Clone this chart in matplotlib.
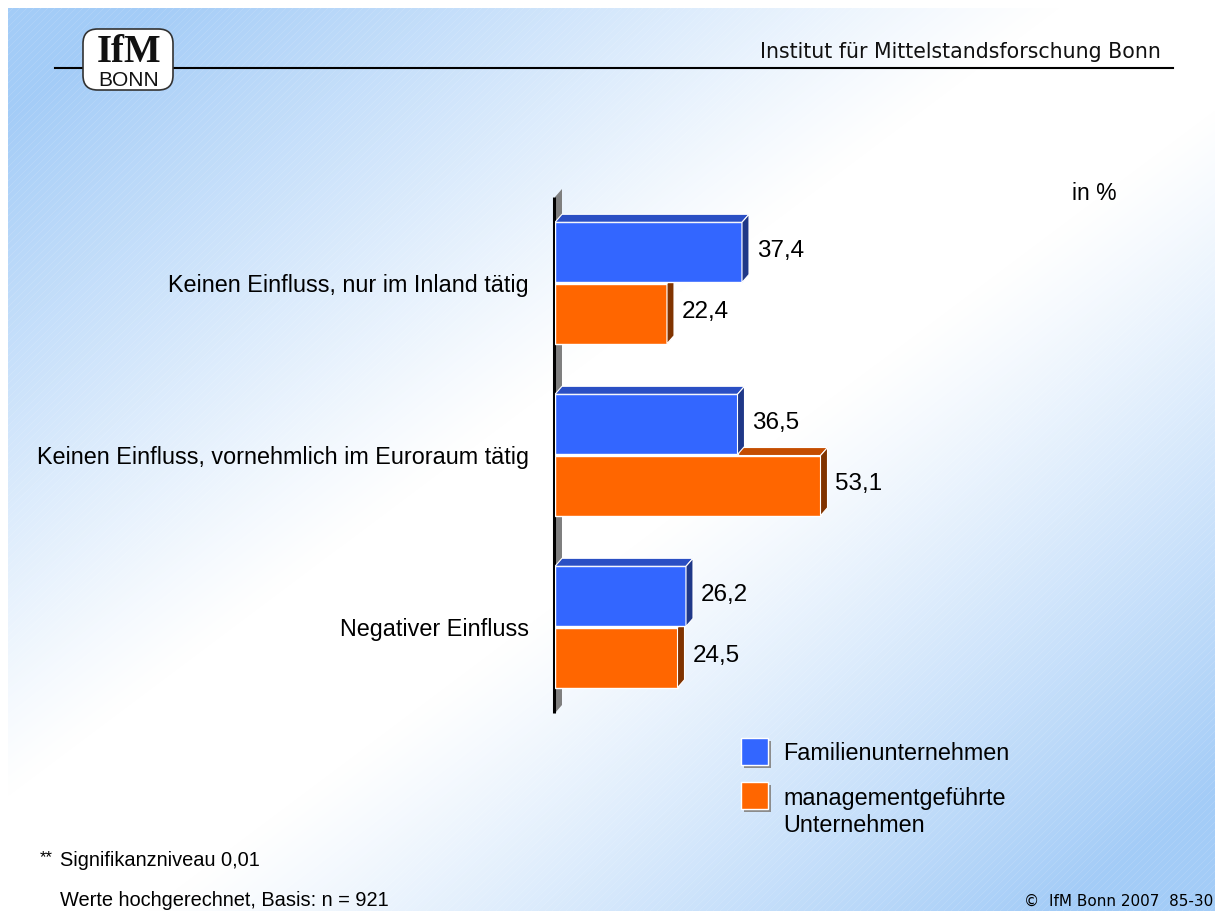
import numpy as np
import matplotlib
matplotlib.use("Agg")
import matplotlib.pyplot as plt
from matplotlib.patches import Polygon, FancyBboxPatch, Rectangle
from matplotlib.lines import Line2D

# ---------------- data ----------------
categories = ["Keinen Einfluss, nur im Inland tätig",
              "Keinen Einfluss, vornehmlich im Euroraum tätig",
              "Negativer Einfluss"]
familien = [37.4, 36.5, 26.2]
management = [22.4, 53.1, 24.5]
series_names = ["Familienunternehmen", "managementgeführte\nUnternehmen"]

W, H = 1215, 911
DPI = 100
plt.rcParams['font.family'] = ['Liberation Sans', 'DejaVu Sans']
VERDANA = ['DejaVu Sans']

fig = plt.figure(figsize=(W / DPI, H / DPI), dpi=DPI)

def fx(x):
    return x / W

def fy(y):
    return 1 - y / H

# ---------------- background ----------------
bg = fig.add_axes([0, 0, 1, 1], zorder=-10)
yy, xx = np.mgrid[0:H, 0:W]
s = xx / W + yy / H - 1.0
t = np.clip((np.abs(s) - 0.12) / 0.75, 0, 1) ** 1.1
blue = np.array([0.64, 0.80, 0.97])
white = np.array([1.0, 1.0, 1.0])
img = white[None, None, :] * (1 - t[..., None]) + blue[None, None, :] * t[..., None]
img[:8, :, :] = 1.0
img[:, :8, :] = 1.0
bg.imshow(img, extent=[0, W, H, 0], aspect='auto', interpolation='bilinear')
for c in range(-H, W + H, 7):
    bg.plot([c, c + H], [H, 0], color='white', lw=0.4, alpha=0.18)
bg.set_xlim(0, W)
bg.set_ylim(H, 0)
bg.axis('off')

# ---------------- header ----------------
fig.add_artist(Line2D([fx(55), fx(1173)], [fy(68), fy(68)], color='black', lw=1.5))
logo = FancyBboxPatch((fx(83), fy(90)), fx(90), (90 - 29) / H,
                      boxstyle="round,pad=0,rounding_size=0.012",
                      transform=fig.transFigure, facecolor='white',
                      edgecolor='#333333', lw=1.2, zorder=3, mutation_aspect=W / H)
fig.add_artist(logo)
fig.text(fx(129), fy(52), "IfM", family=['Liberation Serif', 'DejaVu Serif'],
         fontsize=28, fontweight='bold', ha='center', va='center', color='#111111', zorder=4)
fig.text(fx(129), fy(80), "BONN", fontsize=15, ha='center', va='center',
         color='#111111', zorder=4)
fig.text(fx(1161), fy(52), "Institut für Mittelstandsforschung Bonn", family=VERDANA,
         fontsize=14.8, ha='right', va='center', color='#111111')

# ---------------- chart ----------------
ax_left, ax_right = 555, 1155
ax_top, ax_bot = 150, 750
ax = fig.add_axes([fx(ax_left), fy(ax_bot), (ax_right - ax_left) / W, (ax_bot - ax_top) / H])
ax.patch.set_alpha(0)
px_per_unit = 5.0
ax.set_xlim(0, (ax_right - ax_left) / px_per_unit)
grp = 172.0
c0 = 283.0
ax.set_ylim(2 + (ax_bot - 627) / grp, -(c0 - ax_top) / grp)

dx = 7 / px_per_unit
dy = 8 / grp
h = 0.35
ypos = np.arange(len(categories))

# axis wall
wall = Polygon([(0, 2.5), (0, -0.5), (dx, -0.5 - dy), (dx, 2.5 - dy)],
               closed=True, facecolor='#7f7f7f', edgecolor='none', zorder=1)
ax.add_patch(wall)
ax.plot([-0.25, -0.25], [-0.5, 2.5], color='black', lw=2.2, zorder=2,
        solid_capstyle='butt', clip_on=False)

def bar3d(y, vals, face, top, side, z):
    bars = ax.barh(y, vals, height=h, color=face, edgecolor='white', lw=1.0, zorder=z)
    for b in bars:
        x0, y0 = b.get_x(), b.get_y()
        w, hh = b.get_width(), b.get_height()
        ytop = y0
        ax.add_patch(Polygon([(x0, ytop), (x0 + w, ytop), (x0 + w + dx, ytop - dy), (x0 + dx, ytop - dy)],
                             closed=True, facecolor=top, edgecolor='white', lw=0.8, zorder=z))
        ax.add_patch(Polygon([(x0 + w, ytop), (x0 + w + dx, ytop - dy), (x0 + w + dx, ytop + hh - dy), (x0 + w, ytop + hh)],
                             closed=True, facecolor=side, edgecolor='white', lw=0.8, zorder=z))
    return bars

bars_m = bar3d(ypos + h / 2 + 0.003, management, '#ff6600', '#c44d00', '#803300', 3)
bars_f = bar3d(ypos - h / 2 - 0.003, familien, '#3366ff', '#2a4fc4', '#1f3888', 4)

for bars, vals in ((bars_f, familien), (bars_m, management)):
    for b, v in zip(bars, vals):
        ax.text(v + dx + 1.6, b.get_y() + b.get_height() / 2 - 0.01,
                f"{v:.1f}".replace('.', ','), fontsize=17.5, va='center', ha='left',
                color='black', zorder=6)

ax.set_yticks(ypos)
ax.set_yticklabels(categories, fontsize=16.8)
ax.tick_params(axis='y', length=0, pad=19)
ax.set_xticks([])
for sp in ax.spines.values():
    sp.set_visible(False)

fig.text(fx(1117), fy(193), "in %", fontsize=16.5, ha='right', va='center')

# ---------------- legend ----------------
def legend_box(x, y, color):
    fig.add_artist(Rectangle((fx(x + 3), fy(y + 30)), 27 / W, 27 / H, transform=fig.transFigure,
                             facecolor='#8c8c8c', edgecolor='none', zorder=5))
    fig.add_artist(Rectangle((fx(x), fy(y + 27)), 27 / W, 27 / H, transform=fig.transFigure,
                             facecolor=color, edgecolor='white', lw=1, zorder=6))

legend_box(741, 738, '#3366ff')
legend_box(741, 782, '#ff6600')
fig.text(fx(783), fy(754), series_names[0], fontsize=16.8, va='center', ha='left')
fig.text(fx(783), fy(812), series_names[1], fontsize=16.8, va='center', ha='left',
         linespacing=1.2)

# ---------------- footnotes ----------------
fig.text(fx(40), fy(858), "**", fontsize=12, va='center', ha='left')
fig.text(fx(60), fy(860), "Signifikanzniveau 0,01", fontsize=14.4, va='center', ha='left')
fig.text(fx(60), fy(900), "Werte hochgerechnet, Basis: n = 921", fontsize=14.4, va='center', ha='left')
fig.text(fx(1213), fy(901), "©  IfM Bonn 2007  85-30", family=VERDANA, fontsize=11,
         va='center', ha='right')

fig.savefig("out.png", dpi=DPI)
